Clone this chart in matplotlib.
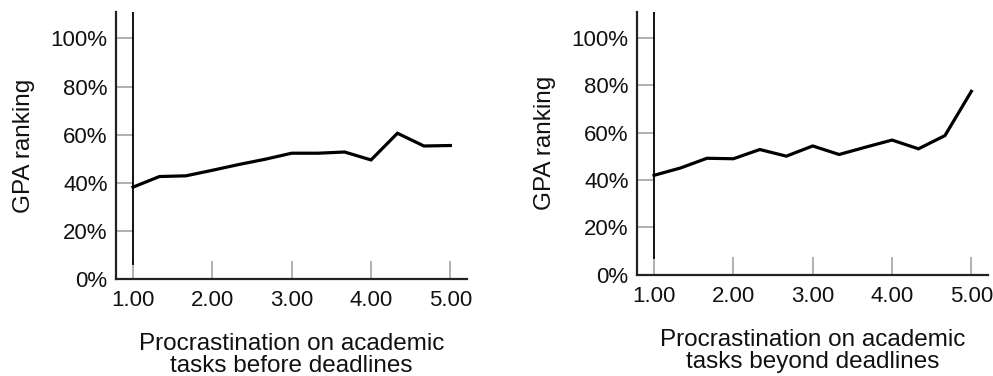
import matplotlib.pyplot as plt
from matplotlib.ticker import FuncFormatter

plt.rcParams['font.family'] = ['Liberation Sans', 'DejaVu Sans']

# procrastination score levels (same for both panels)
levels = [1.0, 1.333, 1.667, 2.0, 2.333, 2.667, 3.0, 3.333, 3.667, 4.0, 4.333, 4.667, 5.0]

# mean GPA ranking (%) per level
gpa_before = [38.2, 42.6, 42.9, 45.2, 47.6, 49.8, 52.3, 52.3, 52.8, 49.5, 60.6, 55.3, 55.5]
gpa_beyond = [42.0, 45.1, 49.2, 49.0, 52.9, 50.1, 54.4, 50.8, 53.9, 56.9, 53.2, 58.8, 77.5]

xticks = [1, 2, 3, 4, 5]
yticks = [0, 20, 40, 60, 80, 100]
xlabels = ["Procrastination on academic\ntasks before deadlines",
           "Procrastination on academic\ntasks beyond deadlines"]

fig = plt.figure(figsize=(9.93, 3.76), dpi=100)
ax1 = fig.add_axes([0.1168, 0.258, 0.3535, 0.710])
ax2 = fig.add_axes([0.6415, 0.2694, 0.3535, 0.6986])

txt = '#111111'
for ax, vals, xl, ymin_line in [(ax1, gpa_before, xlabels[0], 0.055),
                                (ax2, gpa_beyond, xlabels[1], 0.062)]:
    ax.plot(levels, vals, color='black', lw=2.3, solid_joinstyle='miter')
    ax.axvline(1.0, ymin=ymin_line, ymax=1, color='black', lw=1.3)
    ax.set_xlim(0.785, 5.21)
    ax.set_ylim(0, 111)
    ax.set_xticks(xticks)
    ax.set_yticks(yticks)
    ax.xaxis.set_major_formatter(FuncFormatter(lambda v, p: f"{v:.2f}"))
    ax.yaxis.set_major_formatter(FuncFormatter(lambda v, p: f"{v:.0f}%"))
    for s in ['top', 'right']:
        ax.spines[s].set_visible(False)
    for s in ['left', 'bottom']:
        ax.spines[s].set_color('#222222')
        ax.spines[s].set_linewidth(1.6)
    ax.tick_params(axis='both', direction='in', length=13, width=1.4,
                   color='#b0b0b0', labelsize=16, labelcolor=txt)
    ax.tick_params(axis='y', pad=6)
    ax.tick_params(axis='x', pad=8)
    ax.set_xlabel(xl, fontsize=17.5, color=txt, labelpad=16, linespacing=1.0)
    ax.set_ylabel("GPA ranking", fontsize=17.5, color=txt, labelpad=11)

fig.savefig("out.png", dpi=100)
